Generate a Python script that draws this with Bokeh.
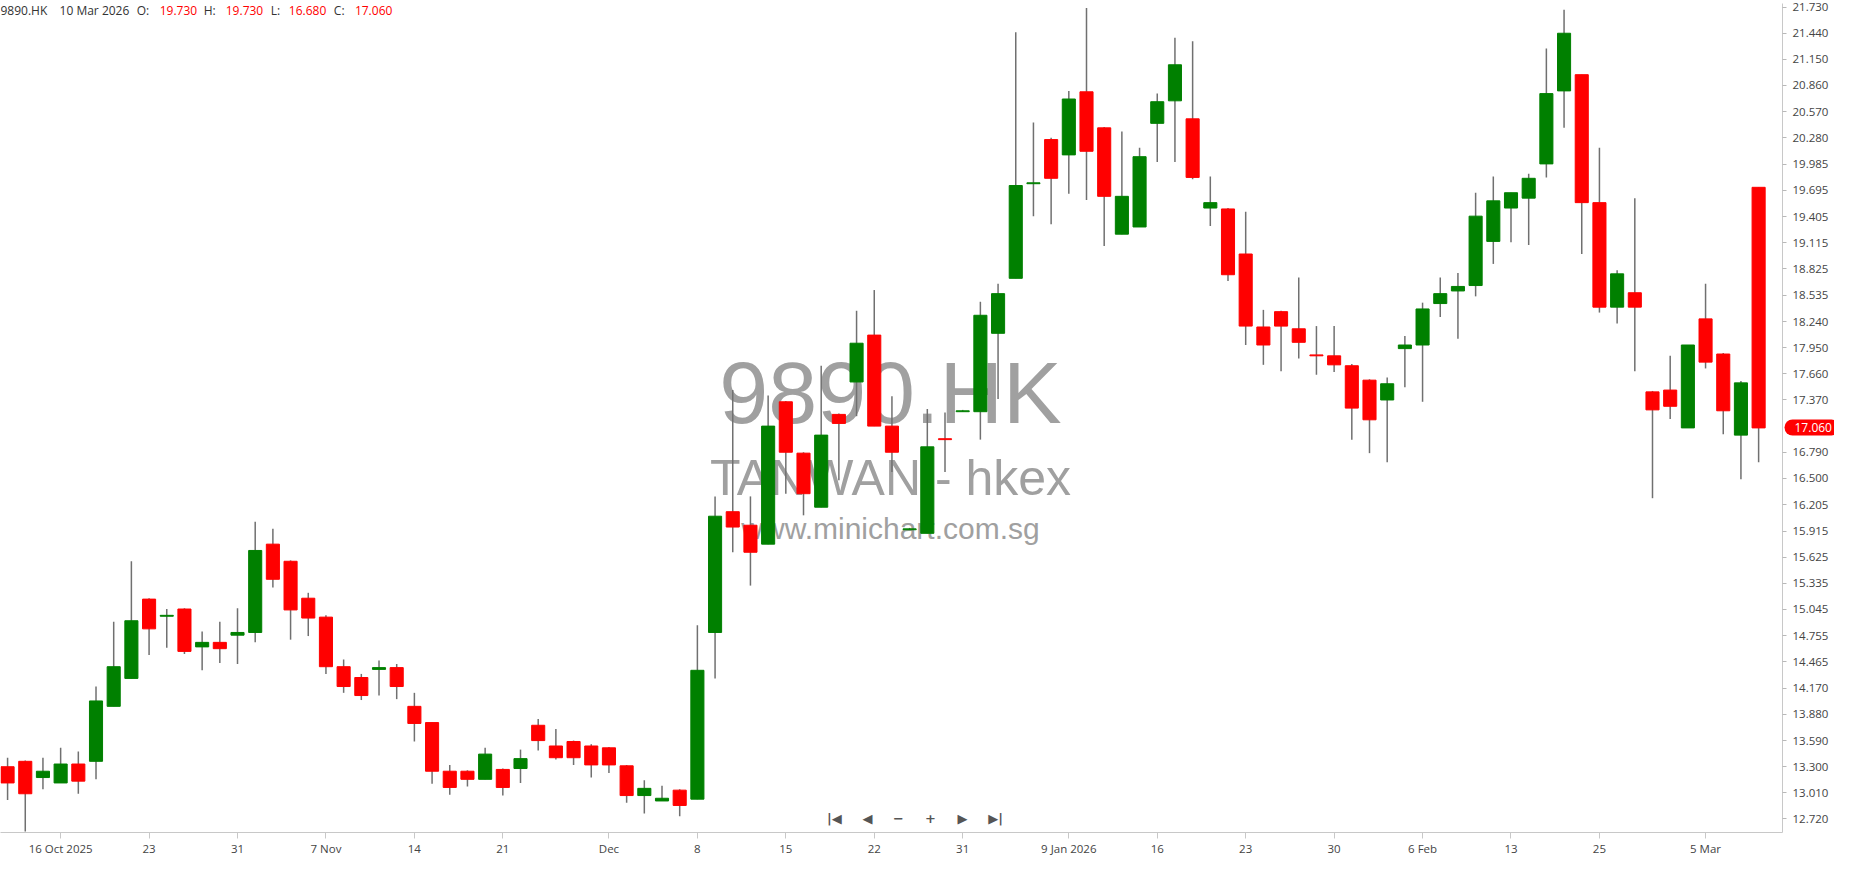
from bokeh.plotting import figure
from bokeh.models import (Range1d, FixedTicker, PrintfTickFormatter, Label, ColumnDataSource,
                          LinearAxis)
from bokeh.embed import file_html
from bokeh.resources import INLINE

# ---------------- data ----------------
symbol = "9890.HK"
subtitle = "TANWAN - hkex"
site = "www.minichart.com.sg"
last_date_label = "10 Mar 2026"

dates = [
    "2025-10-13", "2025-10-14", "2025-10-15", "2025-10-16", "2025-10-17",
    "2025-10-20", "2025-10-21", "2025-10-22", "2025-10-23", "2025-10-24",
    "2025-10-27", "2025-10-28", "2025-10-30", "2025-10-31", "2025-11-03",
    "2025-11-04", "2025-11-05", "2025-11-06", "2025-11-07", "2025-11-10",
    "2025-11-11", "2025-11-12", "2025-11-13", "2025-11-14", "2025-11-17",
    "2025-11-18", "2025-11-19", "2025-11-20", "2025-11-21", "2025-11-24",
    "2025-11-25", "2025-11-26", "2025-11-27", "2025-11-28", "2025-12-01",
    "2025-12-02", "2025-12-03", "2025-12-04", "2025-12-05", "2025-12-08",
    "2025-12-09", "2025-12-10", "2025-12-11", "2025-12-12", "2025-12-15",
    "2025-12-16", "2025-12-17", "2025-12-18", "2025-12-19", "2025-12-22",
    "2025-12-23", "2025-12-24", "2025-12-29", "2025-12-30", "2025-12-31",
    "2026-01-02", "2026-01-05", "2026-01-06", "2026-01-07", "2026-01-08",
    "2026-01-09", "2026-01-12", "2026-01-13", "2026-01-14", "2026-01-15",
    "2026-01-16", "2026-01-19", "2026-01-20", "2026-01-21", "2026-01-22",
    "2026-01-23", "2026-01-26", "2026-01-27", "2026-01-28", "2026-01-29",
    "2026-01-30", "2026-02-02", "2026-02-03", "2026-02-04", "2026-02-05",
    "2026-02-06", "2026-02-09", "2026-02-10", "2026-02-11", "2026-02-12",
    "2026-02-13", "2026-02-16", "2026-02-20", "2026-02-23", "2026-02-24",
    "2026-02-25", "2026-02-26", "2026-02-27", "2026-03-02", "2026-03-03",
    "2026-03-04", "2026-03-05", "2026-03-06", "2026-03-09", "2026-03-10",
]

opens = [
    13.30, 13.36, 13.18, 13.12, 13.33, 13.36, 13.97, 14.28, 15.16, 14.97,
    15.05, 14.63, 14.68, 14.76, 14.79, 15.77, 15.58, 15.17, 14.96, 14.41,
    14.29, 14.38, 14.40, 13.97, 13.79, 13.25, 13.25, 13.16, 13.27, 13.28,
    13.76, 13.53, 13.58, 13.53, 13.51, 13.31, 12.98, 12.92, 13.04, 12.94,
    14.79, 16.13, 15.98, 15.77, 17.35, 16.78, 16.18, 17.21, 17.57, 18.09,
    17.08, 15.93, 15.89, 16.94, 17.24, 17.24, 18.11, 18.72, 19.77, 20.26,
    20.09, 20.79, 20.39, 19.21, 19.29, 20.44, 20.69, 20.49, 19.50, 19.49,
    18.99, 18.18, 18.35, 18.16, 17.87, 17.86, 17.75, 17.59, 17.37, 17.94,
    17.98, 18.44, 18.58, 18.64, 19.13, 19.50, 19.61, 19.99, 20.80, 20.98,
    19.56, 18.40, 18.56, 17.46, 17.48, 17.06, 18.27, 17.88, 16.98, 19.73,
]
highs = [
    13.40, 13.37, 13.40, 13.51, 13.47, 14.19, 14.91, 15.58, 15.17, 15.05,
    15.06, 14.80, 14.91, 15.06, 16.02, 15.94, 15.59, 15.23, 14.98, 14.49,
    14.33, 14.48, 14.44, 14.12, 13.79, 13.32, 13.26, 13.51, 13.28, 13.49,
    13.83, 13.72, 13.59, 13.55, 13.52, 13.32, 13.15, 13.09, 13.05, 14.87,
    16.30, 17.48, 16.30, 17.42, 17.36, 16.79, 17.75, 17.22, 18.36, 18.59,
    17.41, 15.95, 17.27, 17.23, 17.26, 18.46, 18.66, 21.45, 20.45, 20.28,
    20.80, 21.72, 20.40, 20.35, 20.17, 20.77, 21.39, 21.35, 19.85, 19.50,
    19.46, 18.37, 18.36, 18.73, 18.19, 18.19, 17.77, 17.60, 17.62, 18.08,
    18.45, 18.73, 18.78, 19.67, 19.85, 19.67, 19.88, 21.27, 21.70, 20.98,
    20.17, 18.81, 19.61, 17.47, 17.86, 17.98, 18.66, 17.89, 17.58, 19.73,
]
lows = [
    12.93, 12.58, 13.05, 13.12, 13.00, 13.16, 13.97, 14.28, 14.54, 14.62,
    14.55, 14.37, 14.45, 14.44, 14.68, 15.29, 14.71, 14.75, 14.33, 14.12,
    14.04, 14.09, 14.05, 13.58, 13.11, 12.99, 13.08, 13.16, 12.98, 13.12,
    13.48, 13.38, 13.32, 13.18, 13.23, 12.90, 12.78, 12.92, 12.75, 12.94,
    14.28, 15.68, 15.31, 15.77, 16.33, 16.09, 16.18, 16.48, 17.19, 17.08,
    16.57, 15.93, 15.89, 16.57, 17.24, 16.93, 17.38, 18.72, 19.41, 19.32,
    19.66, 19.59, 19.08, 19.21, 19.29, 20.01, 20.01, 19.82, 19.30, 18.69,
    17.98, 17.76, 17.69, 17.83, 17.65, 17.68, 16.93, 16.78, 16.68, 17.51,
    17.35, 18.29, 18.05, 18.52, 18.88, 19.12, 19.09, 19.84, 20.39, 18.99,
    18.34, 18.22, 17.69, 16.28, 17.16, 17.06, 17.72, 16.99, 16.49, 16.68,
]
closes = [
    13.12, 13.00, 13.25, 13.33, 13.14, 14.03, 14.41, 14.92, 14.83, 14.98,
    14.58, 14.68, 14.61, 14.79, 15.70, 15.38, 15.04, 14.95, 14.41, 14.19,
    14.09, 14.40, 14.19, 13.78, 13.25, 13.07, 13.16, 13.44, 13.07, 13.39,
    13.59, 13.40, 13.40, 13.32, 13.32, 12.98, 13.06, 12.95, 12.87, 14.37,
    16.08, 15.96, 15.68, 17.08, 16.79, 16.33, 16.98, 17.11, 18.00, 17.08,
    16.79, 15.94, 16.85, 16.93, 17.25, 18.31, 18.55, 19.75, 19.78, 19.83,
    20.71, 20.13, 19.63, 19.63, 20.07, 20.68, 21.09, 19.84, 19.56, 18.76,
    18.19, 17.98, 18.19, 18.01, 17.86, 17.76, 17.28, 17.15, 17.55, 17.98,
    18.38, 18.55, 18.63, 19.41, 19.58, 19.67, 19.83, 20.77, 21.44, 19.56,
    18.40, 18.77, 18.40, 17.26, 17.30, 17.98, 17.79, 17.25, 17.56, 17.06,
]

date_tick_idx = [3, 8, 13, 18, 23, 28, 34, 39, 44, 49, 54, 60, 65, 70, 75, 80, 85, 90, 96]
date_tick_text = ["16 Oct 2025", "23", "31", "7 Nov", "14", "21", "Dec", "8", "15", "22",
                  "31", "9 Jan 2026", "16", "23", "30", "6 Feb", "13", "25", "5 Mar"]

price_ticks = [21.730, 21.440, 21.150, 20.860, 20.570, 20.280, 19.985, 19.695, 19.405,
               19.115, 18.825, 18.535, 18.240, 17.950, 17.660, 17.370, 16.790, 16.500,
               16.205, 15.915, 15.625, 15.335, 15.045, 14.755, 14.465, 14.170, 13.880,
               13.590, 13.300, 13.010, 12.720]

# ---------------- styling ----------------
UP = "#008000"
DOWN = "#ff0000"
WICK = "#707070"
FONT = "Open Sans"

X0, X1 = -0.40, 100.35
Y0, Y1 = 12.57, 21.77
# assumed frame position on the page (for non-data decorations)
FL, FR, FT, FB = 8.0, 1788.0, 11.0, 834.0


def px_x(px):
    return X0 + (px - FL) / (FR - FL) * (X1 - X0)


def px_y(py):
    return Y1 - (py - FT) / (FB - FT) * (Y1 - Y0)


idx = list(range(len(dates)))
src = ColumnDataSource(dict(
    x=idx,
    date=dates,
    open=opens,
    high=highs,
    low=lows,
    close=closes,
    top=[max(o, c) for o, c in zip(opens, closes)],
    bottom=[min(o, c) for o, c in zip(opens, closes)],
    color=[UP if c >= o else DOWN for o, c in zip(opens, closes)],
))

p = figure(width=1834, height=858, output_backend="svg", toolbar_location=None,
           x_range=Range1d(X0, X1), y_range=Range1d(Y0, Y1),
           y_axis_location="right",
           min_border_left=0, min_border_top=3, min_border_right=49, min_border_bottom=10)
p.xgrid.visible = False
p.ygrid.visible = False
p.outline_line_color = None
p.background_fill_color = "white"
p.border_fill_color = "white"

# watermark (behind candles)
for txt, base_py, size in [(symbol, 396.7, "88px"), (subtitle, 482.0, "50px"), (site, 532.0, "30px")]:
    p.add_layout(Label(x=px_x(897), y=px_y(base_py), text=txt, text_align="center",
                       text_baseline="alphabetic", text_font="Liberation Sans",
                       text_font_size=size, text_color="#a0a0a0", level="underlay"))

# candles
p.segment(x0="x", y0="low", x1="x", y1="high", source=src, line_color=WICK, line_width=1.5)
p.vbar(x="x", width=0.74, top="top", bottom="bottom", source=src,
       fill_color="color", line_color="color", line_width=1)

# axes
xa = p.xaxis[0]
xa.ticker = FixedTicker(ticks=date_tick_idx)
xa.major_label_overrides = {i: t for i, t in zip(date_tick_idx, date_tick_text)}
xa.axis_line_color = "#c8c8c8"
xa.major_tick_line_color = "#c8c8c8"
xa.major_tick_out = 6
xa.major_tick_in = 0
xa.minor_tick_out = 0
xa.minor_tick_line_color = None
xa.axis_label_standoff = 0
xa.major_label_standoff = 2
xa.major_label_text_font = FONT
xa.major_label_text_font_size = "11.5px"
xa.major_label_text_color = "#444444"

ya = p.yaxis[0]
ya.ticker = FixedTicker(ticks=price_ticks)
ya.formatter = PrintfTickFormatter(format="%.3f")
ya.axis_line_color = "#c8c8c8"
ya.major_tick_line_color = "#b8b8b8"
ya.major_tick_out = 4
ya.major_tick_in = 0
ya.minor_tick_out = 0
ya.minor_tick_line_color = None
ya.axis_label_standoff = 0
ya.major_label_standoff = 6
ya.major_label_text_font = FONT
ya.major_label_text_font_size = "11.5px"
ya.major_label_text_color = "#444444"

# last-price tag: an extra right axis with a single thick red tick and white label
tag = LinearAxis(ticker=FixedTicker(ticks=[closes[-1]]),
                 formatter=PrintfTickFormatter(format="%.3f"),
                 axis_line_color=None, minor_tick_line_color=None,
                 major_tick_in=39, major_tick_out=0, minor_tick_in=0, minor_tick_out=0,
                 axis_label_standoff=0,
                 major_tick_line_color=DOWN, major_tick_line_width=16,
                 major_tick_line_cap="round",
                 major_label_standoff=-37,
                 major_label_text_font=FONT, major_label_text_font_size="12px",
                 major_label_text_color="white")
p.add_layout(tag, "right")

# header line
hdr_y = px_y(18)
header = [
    (symbol, 7, "#333333"), (last_date_label, 66, "#333333"),
    ("O:", 143, "#333333"), (f"{opens[-1]:.3f}", 166, DOWN),
    ("H:", 210, "#333333"), (f"{highs[-1]:.3f}", 232, DOWN),
    ("L:", 277, "#333333"), (f"{lows[-1]:.3f}", 295, DOWN),
    ("C:", 340, "#333333"), (f"{closes[-1]:.3f}", 361, DOWN),
]
for txt, px, col in header:
    p.add_layout(Label(x=px_x(px + 1), y=hdr_y, text=txt, text_align="left",
                       text_baseline="middle", text_font=FONT, text_font_size="12px",
                       text_color=col, level="overlay"))

# navigation controls
nav = [("|◀", 841), ("◀", 874), ("−", 905), ("+", 937), ("▶", 969), ("▶|", 1002)]
for txt, px in nav:
    p.add_layout(Label(x=px_x(px), y=px_y(820), text=txt, text_align="center",
                       text_baseline="middle", text_font="DejaVu Sans", text_font_size="13px",
                       text_font_style="bold", text_color="#555555", level="overlay"))

open("out.html", "w").write(file_html(p, INLINE))
